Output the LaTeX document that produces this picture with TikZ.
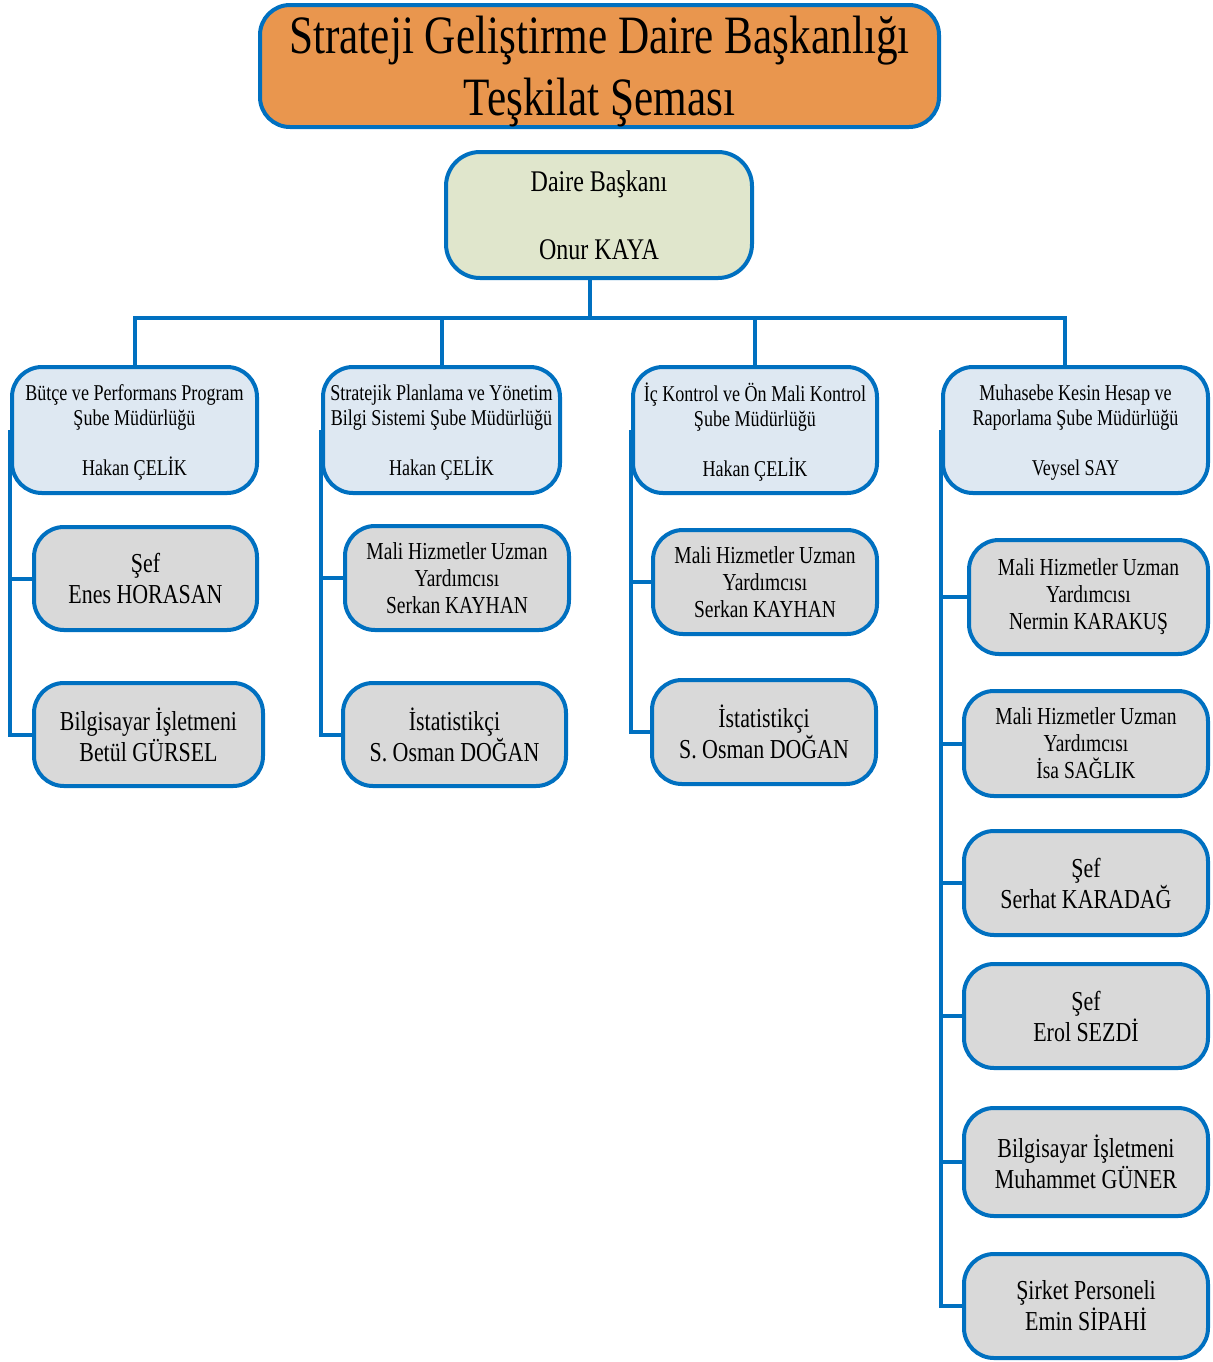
\documentclass[tikz,border=0pt]{standalone}
\usepackage{fontspec}
\setmainfont{Liberation Serif}[FakeStretch=0.8]
\definecolor{lineblue}{RGB}{0,112,192}
\definecolor{titleorange}{RGB}{233,150,78}
\definecolor{headgreen}{RGB}{224,230,204}
\definecolor{deptblue}{RGB}{222,232,242}
\definecolor{staffgray}{RGB}{217,217,217}
\begin{document}
\begin{tikzpicture}[x=0.5pt,y=-0.5pt,
    box/.style={draw=lineblue,line width=2pt,rounded corners=15pt,align=center,inner sep=0pt},
    titlebox/.style={box,fill=titleorange,text depth=0pt,font=\fontsize{27}{31}\selectfont},
    headbox/.style={box,fill=headgreen,rounded corners=17pt,font=\fontsize{15}{17}\selectfont},
    deptbox/.style={box,fill=deptblue,minimum height=63pt,text depth=0pt,font=\fontsize{11.3}{12.5}\selectfont},
    staffbox/.style={box,fill=staffgray,font=\fontsize{13.7}{15.5}\selectfont},
    mhubox/.style={box,fill=staffgray,font=\fontsize{12.2}{13.5}\selectfont},
    link/.style={draw=lineblue,line width=2pt}]
        \useasboundingbox (0,0) rectangle (1212,1362);

        % Title and head of department
        \node[titlebox,minimum width=339.5pt,minimum height=61pt] (title) at (599.5,66)
            {Strateji Geliştirme Daire Başkanlığı\\Teşkilat Şeması};
        \node[headbox,minimum width=153pt,minimum height=63pt] (head) at (599,215)
            {Daire Başkanı\\[17pt]Onur KAYA};

        % Branch offices
        \node[deptbox,minimum width=122.5pt] (d1) at (134.5,430)
            {Bütçe ve Performans Program\\Şube Müdürlüğü\\[12.5pt]Hakan ÇELİK};
        \node[deptbox,minimum width=118.5pt] (d2) at (441.5,430)
            {Stratejik Planlama ve Yönetim\\Bilgi Sistemi Şube Müdürlüğü\\[12.5pt]Hakan ÇELİK};
        \node[deptbox,minimum width=122pt] (d3) at (755,430)
            {İç Kontrol ve Ön Mali Kontrol\\Şube Müdürlüğü\\[12.5pt]Hakan ÇELİK};
        \node[deptbox,minimum width=132.5pt] (d4) at (1075.5,430)
            {Muhasebe Kesin Hesap ve\\Raporlama Şube Müdürlüğü\\[12.5pt]Veysel SAY};

        % Staff, first column
        \node[staffbox,minimum width=111.5pt,minimum height=51.5pt] (s11) at (145.5,578.5)
            {Şef\\Enes HORASAN};
        \node[staffbox,minimum width=114.5pt,minimum height=51.5pt] (s12) at (148.5,734.5)
            {Bilgisayar İşletmeni\\Betül GÜRSEL};

        % Staff, second column
        \node[mhubox,minimum width=112pt,minimum height=52pt] (s21) at (457,578)
            {Mali Hizmetler Uzman\\Yardımcısı\\Serkan KAYHAN};
        \node[staffbox,minimum width=111.5pt,minimum height=51.5pt] (s22) at (454.5,734.5)
            {İstatistikçi\\S. Osman DOĞAN};

        % Staff, third column
        \node[mhubox,minimum width=112pt,minimum height=52pt] (s31) at (765,582)
            {Mali Hizmetler Uzman\\Yardımcısı\\Serkan KAYHAN};
        \node[staffbox,minimum width=112pt,minimum height=52pt] (s32) at (764,732)
            {İstatistikçi\\S. Osman DOĞAN};

        % Staff, fourth column
        \node[mhubox,minimum width=119.5pt,minimum height=57pt] (s41) at (1088.5,597)
            {Mali Hizmetler Uzman\\Yardımcısı\\Nermin KARAKUŞ};
        \node[mhubox,minimum width=122pt,minimum height=52.5pt] (s42) at (1086,743.5)
            {Mali Hizmetler Uzman\\Yardımcısı\\İsa SAĞLIK};
        \node[staffbox,minimum width=122pt,minimum height=52pt] (s43) at (1086,883)
            {Şef\\Serhat KARADAĞ};
        \node[staffbox,minimum width=122pt,minimum height=52pt] (s44) at (1086,1016)
            {Şef\\Erol SEZDİ};
        \node[staffbox,minimum width=122pt,minimum height=54pt] (s45) at (1086,1162)
            {Bilgisayar İşletmeni\\Muhammet GÜNER};
        \node[staffbox,minimum width=122pt,minimum height=52pt] (s46) at (1086,1306)
            {Şirket Personeli\\Emin SİPAHİ};

        % Head to branch offices
        \coordinate (hub) at (590,318);
        \coordinate (drop4) at (1065,366);
        \draw[link] (hub |- head.south) -- (hub);
        \draw[link] (d1.north) |- (hub) -| (drop4);
        \draw[link] (d2.north) -- (d2.north |- hub);
        \draw[link] (d3.north) -- (d3.north |- hub);

        % Branch offices to staff
        \draw[link] (d1.west) |- (s11.west);
        \draw[link] (d1.west) |- (s12.west);
        \draw[link] (d2.west) |- (s21.west);
        \draw[link] (d2.west) |- (s22.west);
        \draw[link] (d3.west) |- (s31.west);
        \draw[link] (d3.west) |- (s32.west);
        \foreach \s in {s41,s42,s43,s44,s45,s46}
            \draw[link] (d4.west) |- (\s.west);
\end{tikzpicture}
\end{document}
